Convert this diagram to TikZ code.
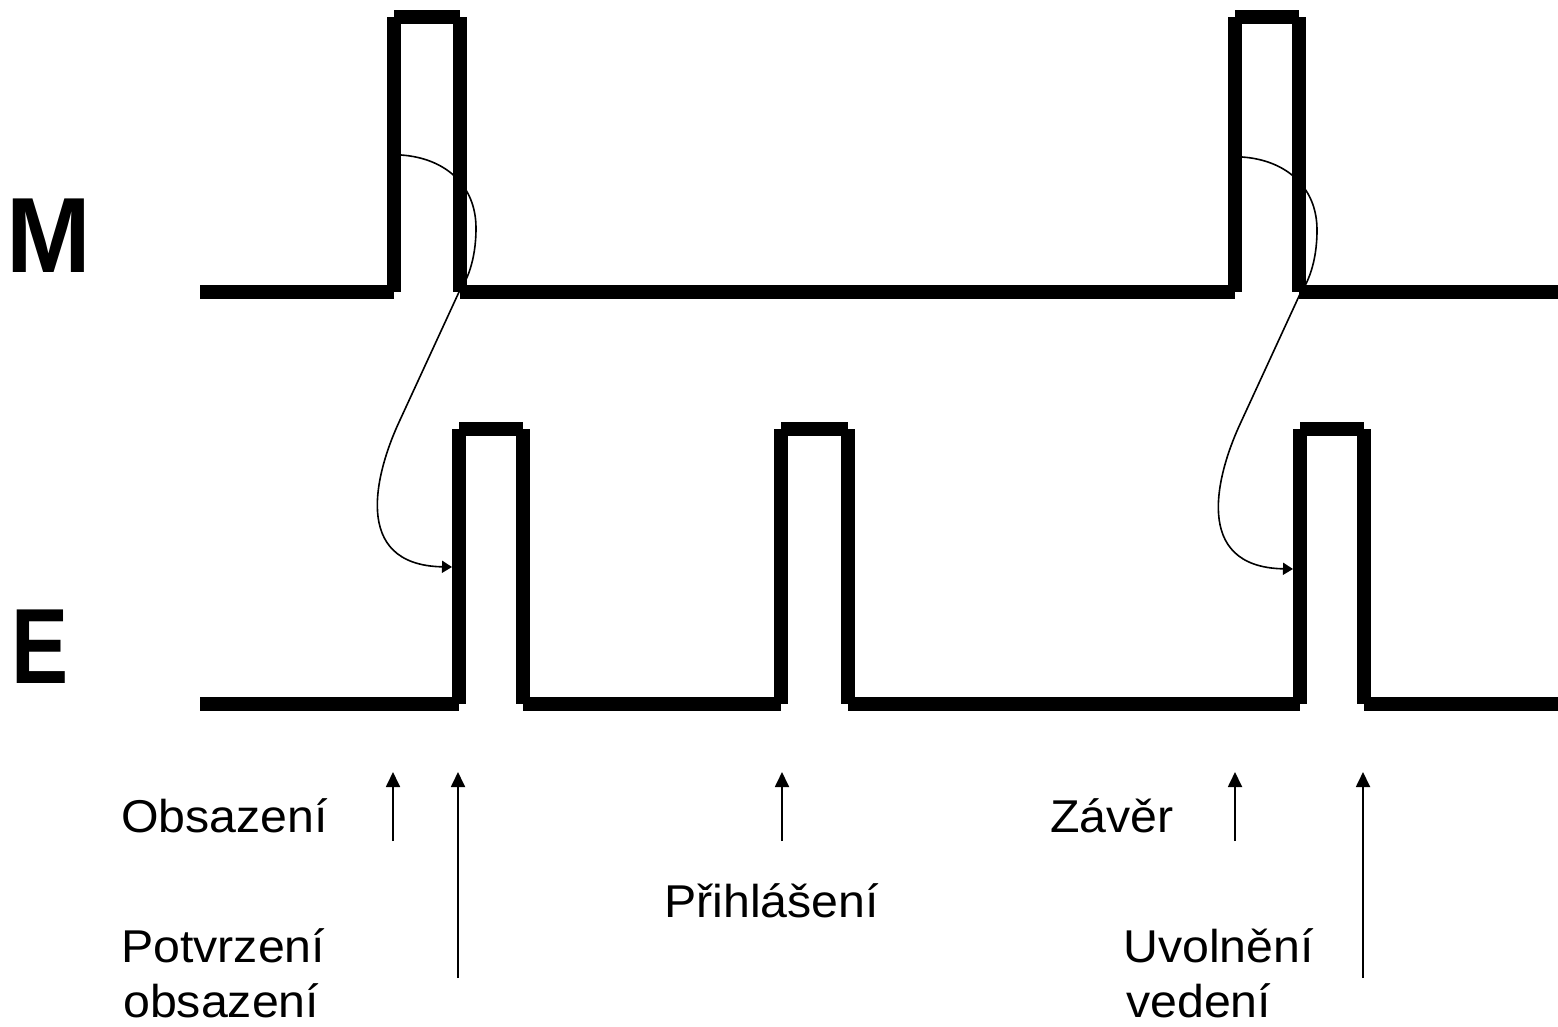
\documentclass[tikz,border=0pt]{standalone}
\usepackage{fontspec}
\usepackage{graphicx}
\setmainfont{Liberation Sans}
\usetikzlibrary{arrows.meta}
\newcommand{\lblsx}[1]{\scalebox{1.05}[1]{#1}}
\begin{document}
\begin{tikzpicture}[x=1pt,y=-1pt,
  sig/.style={line width=14pt,line cap=butt},
  thinarr/.style={line width=1.6pt,-{Triangle[length=10pt,width=12pt]}},
  uparr/.style={line width=1.8pt,-{Triangle[length=15pt,width=14pt]}},
  lbl/.style={inner sep=0pt,anchor=base west,font=\fontsize{46}{56}\selectfont},
  big/.style={inner sep=0pt,anchor=base west,font=\fontsize{107}{120}\selectfont\bfseries}]
\useasboundingbox (0,0) rectangle (1558,1026);
% causal curves (M release -> E response)
\foreach \dx/\dy in {0/0,841/2}{
  \begin{scope}[shift={(\dx,\dy)}]
    \coordinate (cs) at (401,155);
    \coordinate (cm) at (476,228);
    \coordinate (cf) at (459,292);
    \coordinate (ck) at (400,420);
    \coordinate (ce) at (452,567);
    \draw[thinarr] (cs) .. controls (445,158) and (476,185) .. (cm)
      .. controls (476,262) and (466,282) .. (cf) -- (ck)
      .. controls (376,471) and (350,565) .. (ce);
  \end{scope}
}
% M signal
\foreach \a/\b/\c/\d in {200/292/394/292, 394/292/394/17, 394/17/460/17, 460/17/460/292,
  460/292/1235/292, 1235/292/1235/17, 1235/17/1299/17, 1299/17/1299/292, 1299/292/1558/292}
  \draw[sig] (\a,\b) -- (\c,\d);
% E signal
\foreach \a/\b/\c/\d in {200/704/459/704, 459/704/459/429, 459/429/523/429, 523/429/523/704,
  523/704/781/704, 781/704/781/429, 781/429/848/429, 848/429/848/704,
  848/704/1300/704, 1300/704/1300/429, 1300/429/1364/429, 1364/429/1364/704, 1364/704/1558/704}
  \draw[sig] (\a,\b) -- (\c,\d);
% labels
\node[big] (M) at (6,272) {\scalebox{0.95}[1]{M}};
\node[big] (E) at (11,683) {\scalebox{0.8}[1]{E}};
\node[lbl] (obs) at (121,832) {\lblsx{Obsazení}};
\node[lbl] (pot1) at (121,962) {\lblsx{Potvrzení}};
\node[lbl] (pot2) at (123,1017) {\lblsx{obsazení}};
\node[lbl] (pri) at (664,917) {\lblsx{Přihlášení}};
\node[lbl] (zav) at (1050,832) {\lblsx{Závěr}};
\node[lbl] (uvo1) at (1123,962) {\lblsx{Uvolnění}};
\node[lbl] (uvo2) at (1126,1017) {\lblsx{vedení}};
% event arrows
\coordinate (a1b) at (393,841); \coordinate (a1t) at (393,772);
\coordinate (a2b) at (458,978); \coordinate (a2t) at (458,772);
\coordinate (a3b) at (782,841); \coordinate (a3t) at (782,772);
\coordinate (a4b) at (1235,841); \coordinate (a4t) at (1235,772);
\coordinate (a5b) at (1363,978); \coordinate (a5t) at (1363,772);
\foreach \i in {1,...,5} \draw[uparr] (a\i b) -- (a\i t);
\end{tikzpicture}
\end{document}
